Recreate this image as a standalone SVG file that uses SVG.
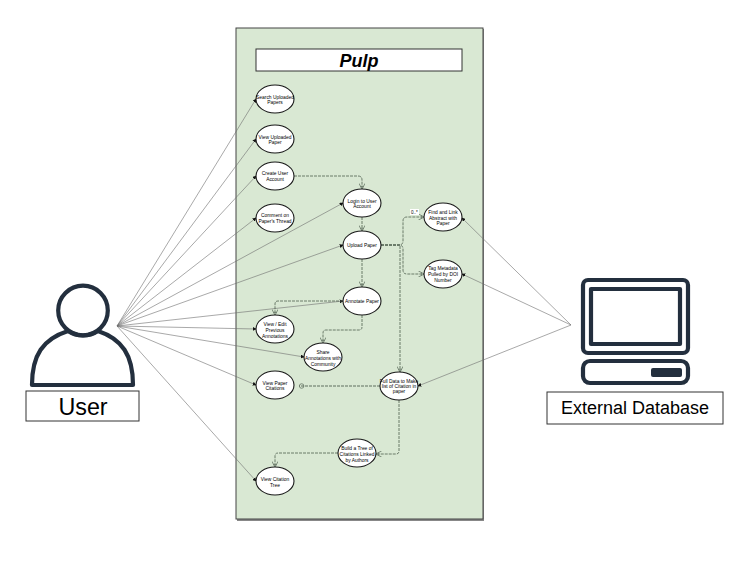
<svg xmlns="http://www.w3.org/2000/svg" width="751" height="563" viewBox="0 0 751 563">
<style>
text{font-family:"Liberation Sans",Arial,sans-serif;text-anchor:middle;fill:#000}
.uc ellipse{fill:#fff;stroke:#1a1a1a;stroke-width:1.1}
.uc text{font-size:4.9px}
.a{fill:none;stroke:#6f6f6f;stroke-width:.6;marker-end:url(#dot)}
.d{fill:none;stroke:#4f5f4f;stroke-width:.8;stroke-dasharray:3 1;marker-end:url(#open)}
.ic{fill:none;stroke:#232f3e;stroke-width:4.2;stroke-linejoin:round}
.lb{fill:#fff;stroke:#333;stroke-width:1}
</style>
<defs>
<marker id="dot" viewBox="0 0 6 6" refX="5" refY="3" markerWidth="4" markerHeight="4" markerUnits="userSpaceOnUse" orient="auto"><path d="M0 0L6 3L0 6Z" fill="#111"/></marker>
<marker id="open" viewBox="0 0 8 8" refX="7.500" refY="4" markerWidth="6" markerHeight="6" markerUnits="userSpaceOnUse" orient="auto"><path d="M0 0L8 4L0 8M4 2L4 6" fill="none" stroke="#5f6f5f" stroke-width="1"/></marker>
<marker id="circ" viewBox="0 0 8 8" refX="7.500" refY="4" markerWidth="6" markerHeight="6" markerUnits="userSpaceOnUse" orient="auto"><circle cx="4" cy="4" r="3" fill="none" stroke="#5f6f5f" stroke-width="1"/></marker>
</defs>
<rect x="237" y="29" width="247" height="492" fill="#888"/>
<rect id="panel" x="236" y="28" width="247" height="491" fill="#d9e8d3" stroke="#444" stroke-width="1"/>
<g id="title"><rect x="256" y="49" width="206" height="22" class="lb"/><text x="359" y="66.500" font-size="18" font-weight="bold" font-style="italic">Pulp</text></g>
<g id="connectors">
<path class="a" d="M117 326L256 99"/><path class="a" d="M117 326L256 139"/><path class="a" d="M117 326L256 176"/><path class="a" d="M117 326L256 218"/><path class="a" d="M117 326L343 203"/><path class="a" d="M117 326L343 245"/><path class="a" d="M117 326L343 301"/><path class="a" d="M117 326L256 329"/><path class="a" d="M117 326L304 357"/><path class="a" d="M117 326L256 385"/><path class="a" d="M117 326L256 481"/>
<path class="a" d="M571 325L462 218"/><path class="a" d="M571 325L462 274"/><path class="a" d="M571 325L418 386"/>
<path class="d" d="M294 176H358Q362 176 362 180V189"/>
<path class="d" d="M362 217V231"/>
<path class="d" d="M362 259V287"/>
<path class="d" d="M381 245H399Q403 245 403 241V221Q403 217 407 217H424"/>
<path class="d" d="M381 245H399Q403 245 403 249V270Q403 274 407 274H424"/>
<path class="d" d="M381 245H400V372"/>
<path class="d" d="M343 301H278Q275 301 275 304V315"/>
<path class="d" d="M362 315V327Q362 330 359 330H326Q323 330 323 333V343"/>
<path d="M380 386H299" fill="none" stroke="#5f6f5f" stroke-width="1" stroke-dasharray="3 1" marker-end="url(#circ)"/>
<path class="d" d="M399 400V451Q399 454 396 454H376"/>
<path class="d" d="M338 453H278Q275 453 275 456V467"/>
</g>
<g id="mult"><rect x="410" y="209" width="9" height="6" fill="#fff"/><text x="414.500" y="214" font-size="4.500">0..*</text></g>
<g id="search" class="uc"><ellipse cx="275" cy="99" rx="19" ry="14"/><text x="275" y="98.500">Search Uploaded</text><text x="275" y="103.500">Papers</text></g>
<g id="viewpaper" class="uc"><ellipse cx="275" cy="139" rx="19" ry="14"/><text x="275" y="138.500">View Uploaded</text><text x="275" y="143.500">Paper</text></g>
<g id="create" class="uc"><ellipse cx="275" cy="176" rx="19" ry="14"/><text x="275" y="175">Create User</text><text x="275" y="180.500">Account</text></g>
<g id="comment" class="uc"><ellipse cx="275" cy="218" rx="19" ry="14"/><text x="275" y="217">Comment on</text><text x="275" y="222.500">Paper's Thread</text></g>
<g id="login" class="uc"><ellipse cx="362" cy="203" rx="19" ry="14"/><text x="362" y="203">Login to User</text><text x="362" y="208">Account</text></g>
<g id="upload" class="uc"><ellipse cx="362" cy="245" rx="19" ry="14"/><text x="362" y="247">Upload Paper</text></g>
<g id="annotate" class="uc"><ellipse cx="362" cy="301" rx="19" ry="14"/><text x="362" y="303">Annotate Paper</text></g>
<g id="find" class="uc"><ellipse cx="443" cy="217" rx="19" ry="14"/><text x="443" y="214">Find and Link</text><text x="443" y="219.500">Abstract with</text><text x="443" y="225">Paper</text></g>
<g id="tag" class="uc"><ellipse cx="443" cy="274" rx="19" ry="14"/><text x="443" y="270">Tag Metadata</text><text x="443" y="275.500">Pulled by DOI</text><text x="443" y="281.500">Number</text></g>
<g id="viewedit" class="uc"><ellipse cx="275" cy="329" rx="19" ry="14"/><text x="275" y="326">View / Edit</text><text x="275" y="331.500">Previous</text><text x="275" y="337.500">Annotations</text></g>
<g id="share" class="uc"><ellipse cx="323" cy="357" rx="19" ry="14"/><text x="323" y="354">Share</text><text x="323" y="359.500">Annotations with</text><text x="323" y="365.500">Community</text></g>
<g id="citations" class="uc"><ellipse cx="275" cy="385" rx="19" ry="14"/><text x="275" y="384.500">View Paper</text><text x="275" y="390">Citations</text></g>
<g id="fulldata" class="uc"><ellipse cx="399" cy="386" rx="19" ry="14"/><text x="399" y="382.500">Full Data to Make</text><text x="399" y="387.500">list of Citation in</text><text x="399" y="393">paper</text></g>
<g id="build" class="uc"><ellipse cx="357" cy="453" rx="19" ry="14"/><text x="357" y="450">Build a Tree of</text><text x="357" y="455.500">Citations Linked</text><text x="357" y="461.500">by Authors</text></g>
<g id="tree" class="uc"><ellipse cx="275" cy="481" rx="19" ry="14"/><text x="275" y="481">View Citation</text><text x="275" y="486.500">Tree</text></g>
<g id="user">
<path class="ic" d="M32 385C32 355 43 339 68 331C77 337 89 337 98 331C122 339 133 355 133 385Z"/>
<circle cx="83" cy="310.500" r="24.800" fill="#fff" class="ic"/>
<rect x="26" y="391" width="113" height="30" class="lb"/><text x="83" y="414.500" font-size="23.300">User</text></g>
<g id="database">
<rect x="583" y="280" width="105" height="73" rx="5" class="ic"/>
<rect x="591" y="289" width="89" height="55" class="ic"/>
<rect x="583" y="361" width="105" height="22" rx="7" class="ic"/>
<rect x="651" y="368" width="31" height="9" rx="2" fill="#232f3e"/>
<rect x="547" y="392" width="176" height="32" class="lb"/><text x="635" y="413.500" font-size="18">External Database</text></g>
</svg>
